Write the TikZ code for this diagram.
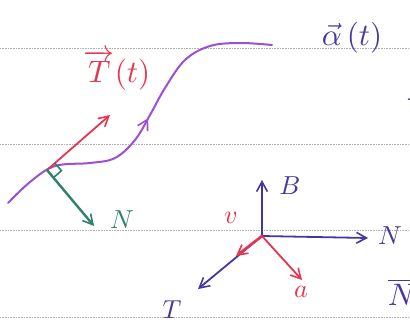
\documentclass[tikz,border=0pt]{standalone}
\usepackage{amsmath}
\usetikzlibrary{arrows.meta,decorations.markings,calc}

\definecolor{curvecol}{HTML}{9A4FD6}
\definecolor{redcol}{HTML}{E8344E}
\definecolor{greencol}{HTML}{2E8266}
\definecolor{navycol}{HTML}{4636A0}

\newcommand{\bighand}[1]{\scalebox{3.1}{#1}}
\newcommand{\smallhand}[1]{\scalebox{2.6}{#1}}

\begin{document}
\begin{tikzpicture}[
  x=1pt,y=-1pt,
  vec/.style={-{Straight Barb[length=3.5mm,width=3.8mm,line width=1.6pt]},line width=1.8pt,line cap=round},
  guide/.style={densely dotted,gray!60,line width=0.6pt},
  lab/.style={inner sep=0pt}
]
\useasboundingbox (0,0) rectangle (410,327);
\clip (0,0) rectangle (410,327);

% ruled lines of the page
\foreach \yy in {48,144,230,317}
  \draw[guide] (0,\yy) -- (410,\yy);

% the curve alpha(t)
\draw[curvecol,line width=2pt,line cap=round,
  postaction={decorate},
  decoration={markings,mark=at position 0.52 with {\arrow{Straight Barb[length=3.5mm,width=4mm,line width=1.6pt]}}}]
  plot[smooth,tension=0.6] coordinates {(8,203) (30,182) (55,166) (90,163) (115,158) (135,140)
    (150,115) (165,88) (185,60) (210,46) (240,43) (272,45)};

\coordinate (p) at (47,170);
\coordinate (tip T) at (110,115);
\coordinate (tip N) at (94,226);

% tangent and normal at p
\draw[vec,redcol] (p) -- (tip T);
\draw[vec,greencol,line width=2.4pt] (p) -- (tip N);
\draw[greencol,line width=1.6pt] ($(p)!10pt!(tip N)$) -- ++(8,-7) -- ++(-7,-8);

\node[lab,text=redcol] (lab T) at (117,70) {\bighand{$\overrightarrow{T}(t)$}};
\node[lab,text=greencol] (lab N) at (122,220) {\smallhand{$N$}};
\node[lab,text=navycol] (lab alpha) at (352,38) {\bighand{$\vec{\alpha}\,(t)$}};

% moving frame
\coordinate (o) at (262,236);
\coordinate (tip B) at (262,180);
\coordinate (tip N2) at (368,238);
\coordinate (tip T2) at (198,289);
\coordinate (tip v) at (236,256);
\coordinate (tip a) at (302,280);

\draw[vec,navycol] (o) -- (tip B);
\draw[vec,navycol] (o) -- (tip N2);
\draw[vec,navycol] (o) -- (tip T2);
\draw[vec,redcol,line width=2.6pt] (o) -- (tip v);
\draw[vec,redcol] (o) -- (tip a);

\node[lab,text=navycol] (lab B) at (290,186) {\smallhand{$B$}};
\node[lab,text=navycol] (lab N2) at (390,236) {\smallhand{$N$}};
\node[lab,text=navycol] (lab T2) at (172,310) {\smallhand{$T$}};
\node[lab,text=redcol] (lab v) at (231,218) {\smallhand{$v$}};
\node[lab,text=redcol] (lab a) at (301,292) {\smallhand{$a$}};

% cut off at the right edge
\node[lab,text=navycol] (edge T) at (422,112) {\bighand{$\overrightarrow{T}$}};
\node[lab,text=navycol] (edge N) at (402,292) {\bighand{$\overline{N}$}};
\end{tikzpicture}
\end{document}
